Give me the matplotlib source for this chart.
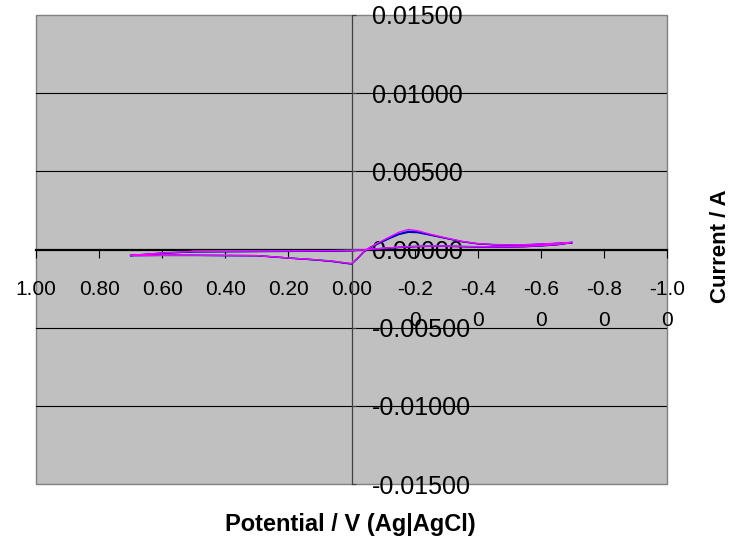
import matplotlib
matplotlib.use("Agg")
import matplotlib.pyplot as plt
from matplotlib.patches import Rectangle
from matplotlib import font_manager

# ---------------- data ----------------
potential = [0.70, 0.60, 0.50, 0.40, 0.30, 0.20, 0.12, 0.06, 0.02, 0.00,
             -0.02, -0.04, -0.06, -0.09, -0.12, -0.15, -0.18, -0.21, -0.25, -0.30,
             -0.35, -0.40, -0.45, -0.50, -0.55, -0.60, -0.65, -0.70,
             -0.65, -0.60, -0.55, -0.50, -0.45, -0.40, -0.35, -0.30, -0.25, -0.20,
             -0.15, -0.10, -0.06, -0.03, 0.00, 0.05, 0.10, 0.20, 0.30, 0.40,
             0.50, 0.60, 0.70]

current_yellow = [-0.00037, -0.00036, -0.00036, -0.00037, -0.00038, -0.00052, -0.00062, -0.00072, -0.00083, -0.00088,
                  -0.00050, -0.00009, 0.00016, 0.00046, 0.00076, 0.00104, 0.00120, 0.00114, 0.00094, 0.00072,
                  0.00051, 0.00038, 0.00032, 0.00030, 0.00031, 0.00034, 0.00039, 0.00045,
                  0.00031, 0.00024, 0.00019, 0.00017, 0.00016, 0.00017, 0.00019, 0.00021, 0.00021, 0.00019,
                  0.00014, 0.00007, 0.00001, -0.00004, -0.00007, -0.00008, -0.00009, -0.00010, -0.00011, -0.00012,
                  -0.00013, -0.00023, -0.00037]

current_cyan = [-0.00038, -0.00037, -0.00036, -0.00038, -0.00039, -0.00053, -0.00063, -0.00073, -0.00084, -0.00089,
                -0.00051, -0.00010, 0.00015, 0.00047, 0.00078, 0.00107, 0.00124, 0.00117, 0.00096, 0.00073,
                0.00052, 0.00038, 0.00032, 0.00030, 0.00031, 0.00035, 0.00040, 0.00046,
                0.00032, 0.00025, 0.00020, 0.00018, 0.00017, 0.00018, 0.00020, 0.00022, 0.00022, 0.00020,
                0.00015, 0.00008, 0.00002, -0.00003, -0.00006, -0.00007, -0.00008, -0.00009, -0.00010, -0.00011,
                -0.00012, -0.00022, -0.00038]

current_navy = [-0.00039, -0.00038, -0.00038, -0.00039, -0.00040, -0.00055, -0.00066, -0.00077, -0.00088, -0.00093,
                -0.00056, -0.00014, 0.00012, 0.00042, 0.00070, 0.00096, 0.00110, 0.00108, 0.00092, 0.00071,
                0.00050, 0.00036, 0.00030, 0.00028, 0.00029, 0.00033, 0.00038, 0.00044,
                0.00030, 0.00023, 0.00018, 0.00016, 0.00015, 0.00016, 0.00018, 0.00020, 0.00020, 0.00018,
                0.00013, 0.00006, 0.00000, -0.00005, -0.00008, -0.00010, -0.00011, -0.00012, -0.00013, -0.00014,
                -0.00015, -0.00024, -0.00039]

current_blue = [-0.00038, -0.00037, -0.00037, -0.00038, -0.00039, -0.00054, -0.00065, -0.00075, -0.00086, -0.00091,
                -0.00054, -0.00012, 0.00014, 0.00044, 0.00074, 0.00100, 0.00116, 0.00112, 0.00094, 0.00072,
                0.00051, 0.00037, 0.00031, 0.00029, 0.00030, 0.00034, 0.00039, 0.00045,
                0.00031, 0.00024, 0.00019, 0.00017, 0.00016, 0.00017, 0.00019, 0.00021, 0.00021, 0.00019,
                0.00014, 0.00007, 0.00001, -0.00004, -0.00007, -0.00009, -0.00010, -0.00011, -0.00012, -0.00013,
                -0.00014, -0.00023, -0.00038]

current_magenta = [-0.00038, -0.00037, -0.00037, -0.00038, -0.00039, -0.00054, -0.00064, -0.00074, -0.00085, -0.00090,
                   -0.00052, -0.00010, 0.00016, 0.00048, 0.00080, 0.00110, 0.00128, 0.00120, 0.00098, 0.00074,
                   0.00052, 0.00038, 0.00032, 0.00030, 0.00031, 0.00035, 0.00040, 0.00046,
                   0.00032, 0.00025, 0.00020, 0.00018, 0.00017, 0.00018, 0.00020, 0.00022, 0.00022, 0.00020,
                   0.00015, 0.00008, 0.00002, -0.00003, -0.00006, -0.00007, -0.00008, -0.00009, -0.00010, -0.00011,
                   -0.00012, -0.00022, -0.00038]

series = [
    (current_yellow, "#FFFF00"),
    (current_cyan, "#00FFFF"),
    (current_navy, "#000080"),
    (current_blue, "#0000FF"),
    (current_magenta, "#FF00FF"),
]

xtick_values = [1.0, 0.8, 0.6, 0.4, 0.2, 0.0, -0.2, -0.4, -0.6, -0.8, -1.0]
xtick_labels = ["1.00", "0.80", "0.60", "0.40", "0.20", "0.00",
                "-0.2\n0", "-0.4\n0", "-0.6\n0", "-0.8\n0", "-1.0\n0"]
ytick_values = [-0.015, -0.010, -0.005, 0.0, 0.005, 0.010, 0.015]
ytick_labels = ["-0.01500", "-0.01000", "-0.00500", "0.00000", "0.00500", "0.01000", "0.01500"]

x_label = "Potential / V (Ag|AgCl)"
y_label = "Current / A"

# ---------------- fonts ----------------
available = {f.name for f in font_manager.fontManager.ttflist}
base_font = "Liberation Sans" if "Liberation Sans" in available else "DejaVu Sans"
plt.rcParams["font.family"] = [base_font, "DejaVu Sans"]

# ---------------- figure ----------------
fig = plt.figure(figsize=(7.31, 5.44), dpi=100)
fig.patch.set_facecolor("white")
ax = fig.add_axes([36 / 731, 1 - 484 / 544, 631 / 731, 469 / 544])
ax.set_facecolor("#C0C0C0")

ax.set_xlim(1.0, -1.0)
ax.set_ylim(-0.015, 0.015)

# interior gridlines
for v in ytick_values:
    if abs(v) > 1e-12 and abs(v) < 0.0149:
        ax.axhline(v, color="black", lw=0.8, zorder=1)

for vals, col in series:
    ax.plot(potential, vals, color=col, lw=1.0, zorder=3)

# spines
ax.spines["left"].set_visible(False)
ax.spines["top"].set_visible(False)
ax.spines["bottom"].set_position(("data", 0))
ax.spines["bottom"].set_color("black")
ax.spines["bottom"].set_linewidth(1.6)
ax.spines["bottom"].set_zorder(2)
ax.spines["right"].set_position(("data", 0))
ax.spines["right"].set_color("#404040")
ax.spines["right"].set_linewidth(0.9)

ax.add_patch(Rectangle((0, 0), 1, 1, transform=ax.transAxes, fill=False,
                       edgecolor="#808080", lw=1.0, zorder=0.5, clip_on=False))

# x ticks
ax.set_xticks(xtick_values)
ax.set_xticklabels(xtick_labels)
ax.tick_params(axis="x", direction="out", length=6, width=0.8, color="black",
               pad=16, labelsize=15)
for lbl in ax.get_xticklabels():
    lbl.set_linespacing(1.8)
    lbl.set_verticalalignment("top")

# y ticks on the right side of the zero axis
ax.yaxis.tick_right()
ax.set_yticks(ytick_values)
ax.set_yticklabels(ytick_labels)
ax.tick_params(axis="y", direction="out", length=3, width=0.8, color="#404040",
               pad=11.5, labelsize=18)

fig.text(350 / 731, 1 - 525 / 544, x_label, ha="center", va="center",
         fontsize=17, fontweight="bold")
fig.text(720 / 731, 1 - 246 / 544, y_label, ha="center", va="center",
         rotation=90, fontsize=16, fontweight="bold")

fig.savefig("out.png", dpi=100, facecolor="white")
